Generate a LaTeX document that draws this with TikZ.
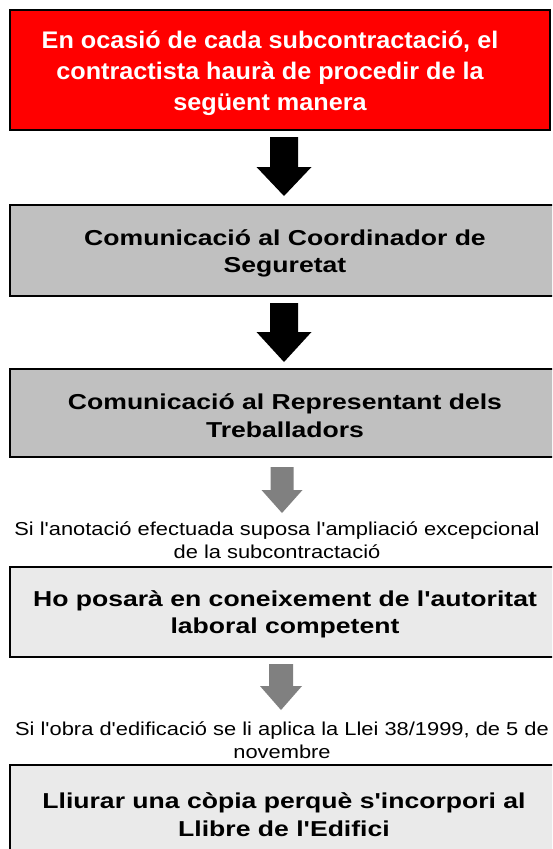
\documentclass[tikz,border=0pt]{standalone}
\usepackage{fontspec}
\setmainfont{Liberation Sans}
\newfontfamily\titlefont[FakeStretch=1.05]{Liberation Sans}
\newfontfamily\boxfont[FakeStretch=1.23]{Liberation Sans}
\newfontfamily\notefont[FakeStretch=1.17]{Liberation Sans}
\definecolor{boxred}{HTML}{FF0000}
\definecolor{boxgray}{HTML}{C0C0C0}
\definecolor{boxlight}{HTML}{EAEAEA}
\definecolor{arrowgray}{HTML}{808080}
\tikzset{
  framebox/.style={draw=black, line width=2pt, rectangle, inner sep=0pt},
  titletext/.style={text=white, align=center, inner sep=0pt, font=\titlefont\bfseries\fontsize{24}{31}\selectfont},
  boxtext/.style={text=black, align=center, inner sep=0pt, font=\boxfont\bfseries\fontsize{21.6}{27.5}\selectfont},
  notetext/.style={text=black, align=center, inner sep=0pt, font=\notefont\fontsize{18.7}{23}\selectfont},
}
% #1 style, #2 x centre, #3 top, #4 half shaft, #5 half head, #6 head start, #7 tip
\newcommand\blockarrow[7]{%
  \fill[#1] (#2-#4,#3) -- (#2+#4,#3) -- (#2+#4,#6) -- (#2+#5,#6) -- (#2,#7)
    -- (#2-#5,#6) -- (#2-#4,#6) -- cycle;}
\begin{document}
\begin{tikzpicture}[x=1pt,y=-1pt]
\useasboundingbox (0,0) rectangle (552,849);
\clip (0,0) rectangle (552,849);
\fill[white] (0,0) rectangle (552,849);
% boxes
\node[framebox, fill=boxred, line width=2.6pt, minimum width=540pt, minimum height=120pt] (b1) at (280,70) {};
\node[titletext] (t1) at (270,73.5) {En ocasió de cada subcontractació, el\\contractista haurà de procedir de la\\següent manera};

\node[framebox, fill=boxgray, minimum width=560pt, minimum height=91pt] (b2) at (290,250.5) {};
\node[boxtext] (t2) at (285,253.5) {Comunicació al Coordinador de\\Seguretat};

\node[framebox, fill=boxgray, minimum width=560pt, minimum height=88pt] (b3) at (290,413) {};
\node[boxtext] (t3) at (285,415.5) {Comunicació al Representant dels\\Treballadors};

\node[framebox, fill=boxlight, minimum width=560pt, minimum height=90pt] (b4) at (290,612) {};
\node[boxtext] (t4) at (285,614.5) {Ho posarà en coneixement de l'autoritat\\laboral competent};

\node[framebox, fill=boxlight, minimum width=560pt, minimum height=120pt] (b5) at (290,825) {};
\node[boxtext] (t5) at (284,814.5) {Lliurar una còpia perquè s'incorpori al\\Llibre de l'Edifici};

% notes
\node[notetext] (n1) at (277,540.5) {Si l'anotació efectuada suposa l'ampliació excepcional\\de la subcontractació};
\node[notetext] (n2) at (282,740.5) {Si l'obra d'edificació se li aplica la Llei 38/1999, de 5 de\\novembre};

% arrows
\blockarrow{black}{284}{137}{14}{27.5}{167}{196}
\blockarrow{black}{284}{303}{14}{27.5}{332}{362}
\blockarrow{arrowgray}{282}{467}{11.5}{20.5}{490}{513}
\blockarrow{arrowgray}{281}{664}{12}{21}{686}{710}
\end{tikzpicture}
\end{document}
